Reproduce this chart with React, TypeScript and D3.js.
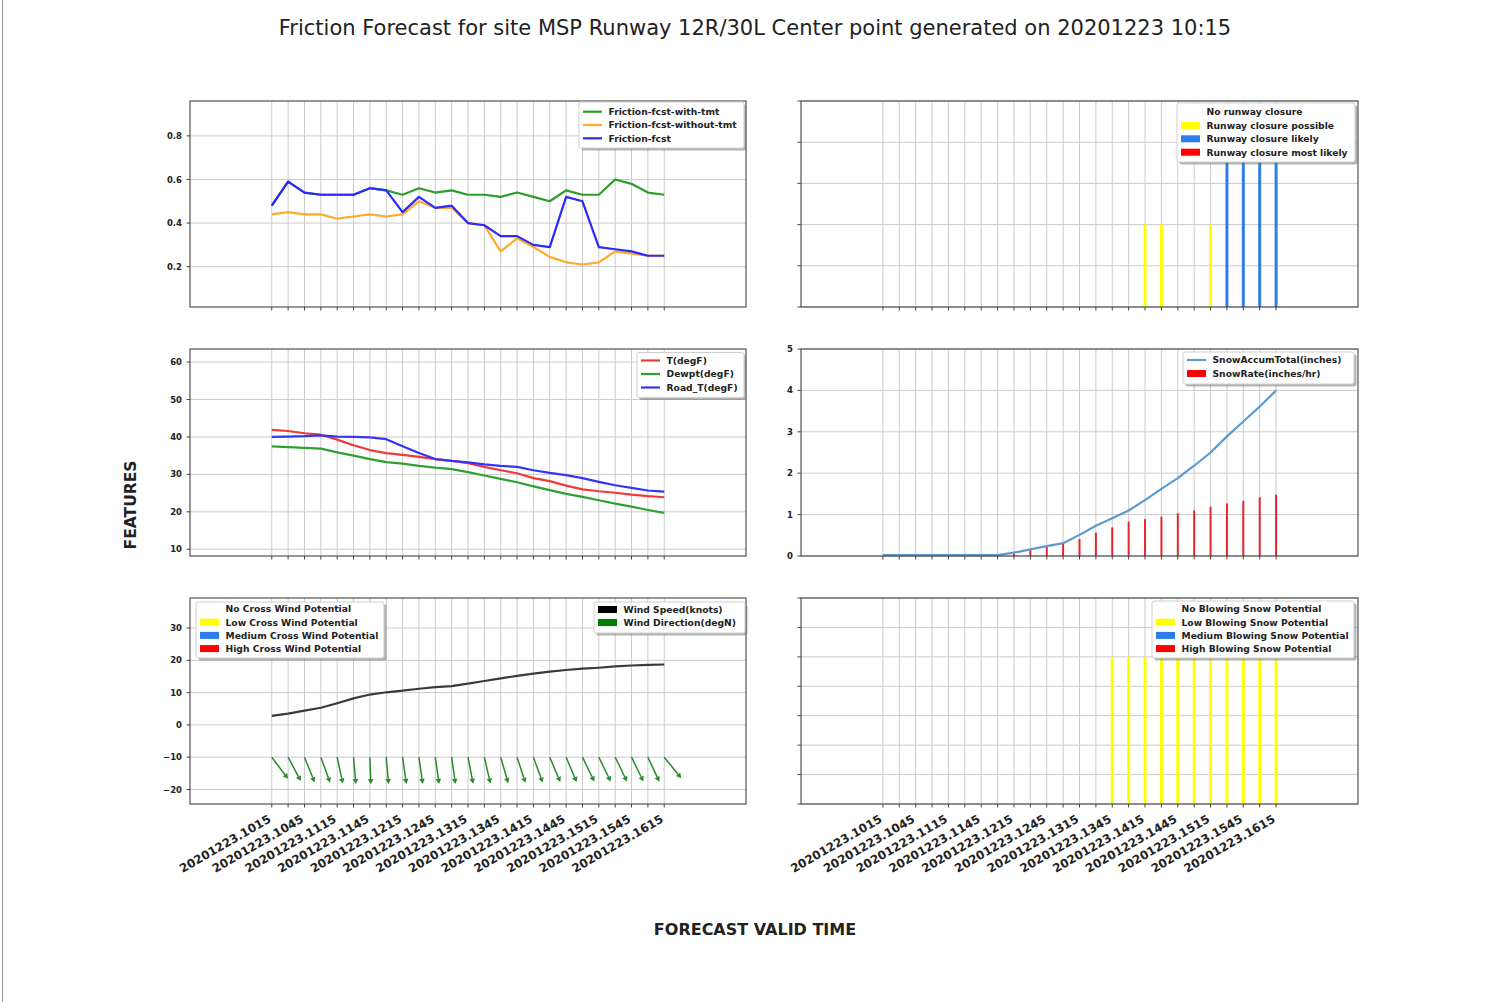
import React from 'react';
import * as d3 from 'd3';

// ---------------- DATA ----------------
const timeLabels = [
  '20201223.1015', '20201223.1030', '20201223.1045', '20201223.1100', '20201223.1115',
  '20201223.1130', '20201223.1145', '20201223.1200', '20201223.1215', '20201223.1230',
  '20201223.1245', '20201223.1300', '20201223.1315', '20201223.1330', '20201223.1345',
  '20201223.1400', '20201223.1415', '20201223.1430', '20201223.1445', '20201223.1500',
  '20201223.1515', '20201223.1530', '20201223.1545', '20201223.1600', '20201223.1615',
];
const shownTimeLabels = [
  '20201223.1015', '20201223.1045', '20201223.1115', '20201223.1145', '20201223.1215',
  '20201223.1245', '20201223.1315', '20201223.1345', '20201223.1415', '20201223.1445',
  '20201223.1515', '20201223.1545', '20201223.1615',
];

const frictionWithTmt = [0.48, 0.59, 0.54, 0.53, 0.53, 0.53, 0.56, 0.55, 0.53, 0.56, 0.54, 0.55, 0.53, 0.53, 0.52, 0.54, 0.52, 0.50, 0.55, 0.53, 0.53, 0.60, 0.58, 0.54, 0.53];
const frictionWithoutTmt = [0.44, 0.45, 0.44, 0.44, 0.42, 0.43, 0.44, 0.43, 0.44, 0.50, 0.47, 0.47, 0.40, 0.39, 0.27, 0.33, 0.29, 0.245, 0.22, 0.21, 0.22, 0.27, 0.26, 0.25, 0.25];
const frictionFcst = [0.48, 0.59, 0.54, 0.53, 0.53, 0.53, 0.56, 0.55, 0.45, 0.52, 0.47, 0.48, 0.40, 0.39, 0.34, 0.34, 0.30, 0.29, 0.52, 0.50, 0.29, 0.28, 0.27, 0.25, 0.25];
const frictionTicks = [0.2, 0.4, 0.6, 0.8];

const runwayClosure = [0, 0, 0, 0, 0, 0, 0, 0, 0, 0, 0, 0, 0, 0, 0, 0, 2, 2, 0, 0, 2, 4, 4, 4, 4];
const runwayTicks = [0, 1, 2, 3, 4, 5];

const tempF = [41.9, 41.6, 41.0, 40.6, 39.3, 37.8, 36.5, 35.7, 35.2, 34.7, 34.1, 33.6, 33.0, 32.0, 31.1, 30.3, 29.0, 28.2, 27.0, 26.0, 25.5, 25.1, 24.6, 24.2, 23.9];
const dewptF = [37.5, 37.3, 37.1, 36.9, 35.9, 35.0, 34.1, 33.3, 32.9, 32.3, 31.8, 31.4, 30.6, 29.7, 28.8, 27.9, 26.8, 25.8, 24.8, 24.0, 23.1, 22.2, 21.4, 20.5, 19.7];
const roadTF = [40.0, 40.1, 40.2, 40.4, 40.1, 40.0, 39.9, 39.4, 37.5, 35.7, 34.1, 33.6, 33.2, 32.7, 32.3, 32.0, 31.1, 30.4, 29.8, 29.0, 28.0, 27.1, 26.4, 25.7, 25.4];
const tempTicks = [10, 20, 30, 40, 50, 60];

const snowAccum = [0.02, 0.02, 0.02, 0.02, 0.02, 0.02, 0.02, 0.02, 0.08, 0.16, 0.24, 0.31, 0.51, 0.73, 0.91, 1.10, 1.35, 1.62, 1.88, 2.18, 2.50, 2.89, 3.25, 3.61, 4.0];
const snowRate = [0, 0, 0, 0, 0, 0, 0, 0, 0.06, 0.16, 0.24, 0.31, 0.41, 0.56, 0.69, 0.83, 0.89, 0.95, 1.03, 1.10, 1.19, 1.27, 1.33, 1.42, 1.48];
const snowTicks = [0, 1, 2, 3, 4, 5];

const windSpeed = [2.8, 3.5, 4.4, 5.3, 6.7, 8.2, 9.4, 10.1, 10.6, 11.2, 11.7, 12.0, 12.8, 13.6, 14.4, 15.2, 15.9, 16.5, 17.0, 17.4, 17.7, 18.1, 18.4, 18.6, 18.7];
const windDir = [323, 332, 338, 340, 348, 355, 358, 355, 352, 352, 352, 352, 349, 347, 344, 342, 340, 337, 337, 334, 334, 334, 334, 335, 321];
const crossWind = [0, 0, 0, 0, 0, 0, 0, 0, 0, 0, 0, 0, 0, 0, 0, 0, 0, 0, 0, 0, 0, 0, 0, 0, 0];
const windTicks = [-20, -10, 0, 10, 20, 30];

const blowingSnow = [0, 0, 0, 0, 0, 0, 0, 0, 0, 0, 0, 0, 0, 0, 5, 5, 5, 5, 5, 5, 5, 5, 5, 5, 5];
const blowingTicks = [0, 1, 2, 3, 4, 5, 6, 7];

// ---------------- STYLE / LAYOUT ----------------
const FONT = "'DejaVu Sans', Verdana, sans-serif";
const GRID = '#cbcbcb';
const SPINE = '#444';
const TXT = '#222';
const YELLOW = '#ffff00';
const BLUE = '#2b7de9';
const RED = '#ff0000';
const levelColor: Record<number, string> = { 1: YELLOW, 2: YELLOW, 3: BLUE, 4: BLUE, 5: YELLOW, 6: RED };
const X_DOMAIN = [-5, 29];
const COLS = [[190, 746], [801, 1358]];
const ROWS = [[101, 307], [349, 556], [598, 804]];
const LW = 2.2;

type S = d3.ScaleLinear<number, number>;

function Axes(props: {
  col: number; row: number; yDomain: number[]; yTicks: number[];
  yFmt?: (v: number) => string; xLabels?: boolean;
  children: (x: S, y: S) => React.ReactNode;
}) {
  const [x0, x1] = COLS[props.col];
  const [y0, y1] = ROWS[props.row];
  const x = d3.scaleLinear().domain(X_DOMAIN).range([x0, x1]);
  const y = d3.scaleLinear().domain(props.yDomain).range([y1, y0]);
  const idx = d3.range(timeLabels.length);
  return (
    <g>
      <rect x={x0} y={y0} width={x1 - x0} height={y1 - y0} fill="white" />
      {idx.map(i => (
        <line key={'gx' + i} x1={x(i)} x2={x(i)} y1={y0} y2={y1} stroke={GRID} strokeWidth={1} />
      ))}
      {props.yTicks.map(t => (
        <line key={'gy' + t} x1={x0} x2={x1} y1={y(t)} y2={y(t)} stroke={GRID} strokeWidth={1} />
      ))}
      {props.children(x, y)}
      <rect x={x0} y={y0} width={x1 - x0} height={y1 - y0} fill="none" stroke={SPINE} strokeWidth={1.1} />
      {idx.map(i => (
        <line key={'tx' + i} x1={x(i)} x2={x(i)} y1={y1} y2={y1 + 3.5} stroke={SPINE} strokeWidth={1} />
      ))}
      {props.yTicks.map(t => (
        <line key={'ty' + t} x1={x0 - 3.5} x2={x0} y1={y(t)} y2={y(t)} stroke={SPINE} strokeWidth={1} />
      ))}
      {props.yFmt && props.yTicks.map(t => (
        <text key={'yl' + t} x={x0 - 8} y={y(t)} dy="0.36em" textAnchor="end" fontFamily={FONT}
          fontSize={8.5} fontWeight="bold" fill={TXT}>{props.yFmt!(t)}</text>
      ))}
      {props.xLabels && idx.filter(i => shownTimeLabels.includes(timeLabels[i])).map(i => (
        <text key={'xl' + i} transform={`translate(${x(i)},${y1 + 17.5}) rotate(-30)`} textAnchor="end"
          fontFamily={FONT} fontSize={11.8} fontWeight="bold" fill={TXT}>{timeLabels[i]}</text>
      ))}
    </g>
  );
}

type Item = { label: string; kind: 'line' | 'patch' | 'none'; color: string };

function Legend({ x, y, w, h, first, step, items }: { x: number; y: number; w: number; h: number; first: number; step: number; items: Item[] }) {
  return (
    <g>
      <rect x={x + 2.5} y={y + 2.5} width={w} height={h} rx={2} fill="#777" opacity={0.55} />
      <rect x={x} y={y} width={w} height={h} rx={2} fill="white" stroke="#cfcfcf" strokeWidth={1} />
      {items.map((it, k) => {
        const cy = y + first + k * step;
        return (
          <g key={it.label}>
            {it.kind === 'line' && <line x1={x + 4} x2={x + 23} y1={cy} y2={cy} stroke={it.color} strokeWidth={LW} />}
            {it.kind === 'patch' && <rect x={x + 4} y={cy - 3.5} width={19} height={7} fill={it.color} />}
            <text x={x + 29.5} y={cy} dy="0.36em" fontFamily={FONT} fontSize={9.2} fontWeight="bold" fill={TXT}>{it.label}</text>
          </g>
        );
      })}
    </g>
  );
}

function bars(values: number[], x: S, y: S, width: number, colorOf: (v: number) => string, pre: string) {
  return values.map((v, i) => v > 0 ? (
    <rect key={pre + i} x={x(i - width / 2)} width={x(i + width / 2) - x(i - width / 2)} y={y(v)} height={y(0) - y(v)} fill={colorOf(v)} />
  ) : null);
}

function line(values: number[], x: S, y: S, color: string, w: number, key: string) {
  const gen = d3.line<number>().x((_, i) => x(i)).y(d => y(d));
  return <path key={key} d={gen(values) || ''} fill="none" stroke={color} strokeWidth={w} strokeLinejoin="round" />;
}

function arrows(dirs: number[], x: S, y: S) {
  const L = 27;
  return dirs.map((d, i) => {
    const toward = ((d + 180) % 360) * Math.PI / 180;
    const ux = Math.sin(toward), uy = -Math.cos(toward);
    const sx = x(i), sy = y(-10);
    const tx = sx + L * ux, ty = sy + L * uy;
    const bx = tx - 5 * ux, by = ty - 5 * uy;
    const px = -uy, py = ux;
    const head = `M${tx},${ty}L${bx + 2.8 * px},${by + 2.8 * py}L${bx - 2.8 * px},${by - 2.8 * py}Z`;
    return (
      <g key={'ar' + i}>
        <line x1={sx} y1={sy} x2={bx} y2={by} stroke="#2a8a2a" strokeWidth={1.5} />
        <path d={head} fill="#2a8a2a" />
      </g>
    );
  });
}

export default function App() {
  const f1 = d3.format('.1f');
  const fi = d3.format('d');
  return (
    <svg width={1499} height={1002} style={{ position: 'absolute', left: 0, top: 0, background: 'white' }}>
      <rect x={0} y={0} width={1499} height={1002} fill="white" />
      <line x1={2.5} x2={2.5} y1={0} y2={1002} stroke="#999" strokeWidth={1} />
      <text x={755} y={35} textAnchor="middle" fontFamily={FONT} fontSize={21} fill={TXT}>
        Friction Forecast for site MSP Runway 12R/30L Center point generated on 20201223 10:15
      </text>

      {/* Friction */}
      <Axes col={0} row={0} yDomain={[0.015, 0.96]} yTicks={frictionTicks} yFmt={f1}>
        {(x, y) => [
          line(frictionWithTmt, x, y, '#2a9d2a', LW, 'fw'),
          line(frictionWithoutTmt, x, y, '#ffaa2a', LW, 'fo'),
          line(frictionFcst, x, y, '#2a2aff', LW, 'ff'),
        ]}
      </Axes>
      <Legend x={579} y={102} w={165} h={46} first={9.7} step={13.3} items={[
        { label: 'Friction-fcst-with-tmt', kind: 'line', color: '#2a9d2a' },
        { label: 'Friction-fcst-without-tmt', kind: 'line', color: '#ffaa2a' },
        { label: 'Friction-fcst', kind: 'line', color: '#2a2aff' },
      ]} />

      {/* Runway closure */}
      <Axes col={1} row={0} yDomain={[0, 5]} yTicks={runwayTicks}>
        {(x, y) => bars(runwayClosure, x, y, 0.18, v => levelColor[v], 'rc')}
      </Axes>
      <Legend x={1177} y={103} w={178} h={59} first={9} step={13.4} items={[
        { label: 'No runway closure', kind: 'none', color: 'white' },
        { label: 'Runway closure possible', kind: 'patch', color: YELLOW },
        { label: 'Runway closure likely', kind: 'patch', color: BLUE },
        { label: 'Runway closure most likely', kind: 'patch', color: RED },
      ]} />

      {/* Temperatures */}
      <Axes col={0} row={1} yDomain={[8.2, 63.5]} yTicks={tempTicks} yFmt={fi}>
        {(x, y) => [
          line(tempF, x, y, '#f03a3a', LW, 't'),
          line(dewptF, x, y, '#30a030', LW, 'd'),
          line(roadTF, x, y, '#3535f5', LW, 'r'),
        ]}
      </Axes>
      <Legend x={637} y={352.5} w={107} h={45} first={8} step={13.5} items={[
        { label: 'T(degF)', kind: 'line', color: '#f03a3a' },
        { label: 'Dewpt(degF)', kind: 'line', color: '#30a030' },
        { label: 'Road_T(degF)', kind: 'line', color: '#3535f5' },
      ]} />

      {/* Snow */}
      <Axes col={1} row={1} yDomain={[0, 5]} yTicks={snowTicks} yFmt={fi}>
        {(x, y) => [
          ...bars(snowRate, x, y, 0.12, () => '#e8222a', 'sr'),
          line(snowAccum, x, y, '#5b9bd0', LW, 'sa'),
        ]}
      </Axes>
      <Legend x={1183} y={352} w={171} h={32} first={8} step={13.5} items={[
        { label: 'SnowAccumTotal(inches)', kind: 'line', color: '#5b9bd0' },
        { label: 'SnowRate(inches/hr)', kind: 'patch', color: RED },
      ]} />

      {/* Wind */}
      <Axes col={0} row={2} yDomain={[-24.5, 39.3]} yTicks={windTicks} yFmt={fi} xLabels>
        {(x, y) => [
          ...bars(crossWind, x, y, 0.18, v => levelColor[v], 'cw'),
          line(windSpeed, x, y, '#3a3a3a', LW, 'ws'),
          ...arrows(windDir, x, y),
        ]}
      </Axes>
      <Legend x={196} y={602} w={188} h={56} first={7} step={13.2} items={[
        { label: 'No Cross Wind Potential', kind: 'none', color: 'white' },
        { label: 'Low Cross Wind Potential', kind: 'patch', color: YELLOW },
        { label: 'Medium Cross Wind Potential', kind: 'patch', color: BLUE },
        { label: 'High Cross Wind Potential', kind: 'patch', color: RED },
      ]} />
      <Legend x={594} y={602} w={151} h={31} first={7.5} step={13} items={[
        { label: 'Wind Speed(knots)', kind: 'patch', color: '#000000' },
        { label: 'Wind Direction(degN)', kind: 'patch', color: '#008000' },
      ]} />

      {/* Blowing snow */}
      <Axes col={1} row={2} yDomain={[0, 7]} yTicks={blowingTicks} xLabels>
        {(x, y) => bars(blowingSnow, x, y, 0.18, v => levelColor[v], 'bs')}
      </Axes>
      <Legend x={1152} y={601} w={202} h={57} first={8} step={13.2} items={[
        { label: 'No Blowing Snow Potential', kind: 'none', color: 'white' },
        { label: 'Low Blowing Snow Potential', kind: 'patch', color: YELLOW },
        { label: 'Medium Blowing Snow Potential', kind: 'patch', color: BLUE },
        { label: 'High Blowing Snow Potential', kind: 'patch', color: RED },
      ]} />

      <text transform="translate(136,505) rotate(-90)" textAnchor="middle" fontFamily={FONT} fontSize={15.5} fontWeight="bold" fill={TXT}>FEATURES</text>
      <text x={755} y={935} textAnchor="middle" fontFamily={FONT} fontSize={16} fontWeight="bold" fill={TXT}>FORECAST VALID TIME</text>
    </svg>
  );
}
